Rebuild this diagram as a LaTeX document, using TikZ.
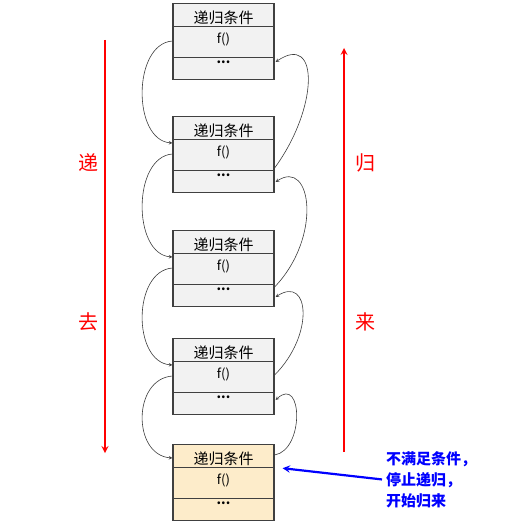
\documentclass[tikz,border=0pt]{standalone}
\usepackage{fontspec}
\setmainfont{Noto Sans CJK SC}
\usepackage{tikz}
\usetikzlibrary{arrows,calc}
\definecolor{cellline}{RGB}{64,64,64}
\definecolor{cellbg}{RGB}{242,242,242}
\definecolor{basebg}{RGB}{253,236,202}
\definecolor{linkgray}{RGB}{60,60,60}
\definecolor{gored}{RGB}{255,0,0}
\definecolor{noteblue}{RGB}{0,0,255}

\begin{document}
\begin{tikzpicture}[x=1pt, y=-1pt,
    every node/.style={font=\fontsize{13}{15}\selectfont},
    cell/.style={draw=cellline, line width=1.2pt, fill=cellbg, minimum width=101pt,
                 inner sep=0pt, anchor=north},
    titlecell/.style={cell, minimum height=23pt, text height=16.5pt, text depth=0pt,
                      font=\fontsize{15}{17}\selectfont},
    fcell/.style={cell, minimum height=31pt, text height=10pt, text depth=8pt},
    dotcell/.style={cell, minimum height=22pt, text height=2pt, text depth=13pt},
    base/.style={fill=basebg},
    link/.style={->, >=stealth, line width=0.6pt, color=linkgray},
    goarr/.style={->, >=stealth, line width=2pt, color=gored},
    golabel/.style={text=gored, font=\fontsize{20}{22}\selectfont},
    note/.style={text=noteblue, align=left, inner sep=0pt,
                 font=\fontsize{15}{21}\selectfont\bfseries},
    notearr/.style={->, >=stealth, line width=2.2pt, color=noteblue},
]
    \useasboundingbox (0,0) rectangle (514,529);

    % Stack frames, top to bottom
    \node[titlecell] (t1) at (223.5,3)   {递归条件};
    \node[fcell]     (f1) at (223.5,26)  {f()};
    \node[dotcell]   (d1) at (223.5,57)  {\textbf{...}};

    \node[titlecell] (t2) at (223.5,116) {递归条件};
    \node[fcell]     (f2) at (223.5,139) {f()};
    \node[dotcell]   (d2) at (223.5,170) {\textbf{...}};

    \node[titlecell] (t3) at (223.5,230) {递归条件};
    \node[fcell]     (f3) at (223.5,253) {f()};
    \node[dotcell]   (d3) at (223.5,284) {\textbf{...}};

    \node[titlecell] (t4) at (223.5,338) {递归条件};
    \node[fcell]     (f4) at (223.5,361) {f()};
    \node[dotcell]   (d4) at (223.5,392) {\textbf{...}};

    % Base case
    \node[titlecell, base] (t5) at (223.5,444) {递归条件};
    \node[fcell, base]     (f5) at (223.5,467) {f()};
    \node[dotcell, base]   (d5) at (223.5,498) {\textbf{...}};

    % Going down (left side)
    \draw[link] ($(f1.north west)+(0,15)$) .. controls +(-40,3) and +(-40,-3) .. ($(f2.north west)+(0,4)$);
    \draw[link] ($(f2.north west)+(0,15)$) .. controls +(-40,3) and +(-40,-3) .. ($(f3.north west)+(0,4)$);
    \draw[link] ($(f3.north west)+(0,15)$) .. controls +(-40,3) and +(-40,-3) .. ($(f4.north west)+(0,4)$);
    \draw[link] ($(f4.north west)+(0,15)$) .. controls +(-40,3) and +(-40,-3) .. ($(t5.north west)+(0,14)$);

    % Coming back (right side)
    \draw[link] ($(d2.north east)+(0,-2)$) .. controls +(44,-60) and +(44,-30) .. ($(d1.north east)+(1,5)$);
    \draw[link] ($(d3.north east)+(0,3)$)  .. controls +(48,-50) and +(36,-24) .. ($(d2.north east)+(1,12)$);
    \draw[link] ($(f4.north east)+(0,14)$) .. controls +(40,-40) and +(34,-22) .. ($(d3.north east)+(1,13)$);
    \draw[link] ($(t5.north east)+(0,11)$) .. controls +(30,-5)  and +(27,-25) .. ($(d4.north east)+(1,8)$);

    % Red direction arrows
    \coordinate (downtop) at (105,40);
    \coordinate (downbot) at (105,453);
    \coordinate (upbot)   at (344,452);
    \coordinate (uptop)   at (344,48);
    \draw[goarr] (downtop) -- (downbot);
    \draw[goarr] (upbot) -- (uptop);

    \node[golabel] (di)  at (88,163)  {递};
    \node[golabel] (qu)  at (88,322)  {去};
    \node[golabel] (gui) at (365,163) {归};
    \node[golabel] (lai) at (365,322) {来};

    % Note on the base case
    \node[note, anchor=north west] (note) at (386,451) {不满足条件，\\停止递归，\\开始归来};
    \draw[notearr] ($(note.west)+(-4,0)$) -- ($(t5.south east)+(8,0)$);

\end{tikzpicture}
\end{document}
